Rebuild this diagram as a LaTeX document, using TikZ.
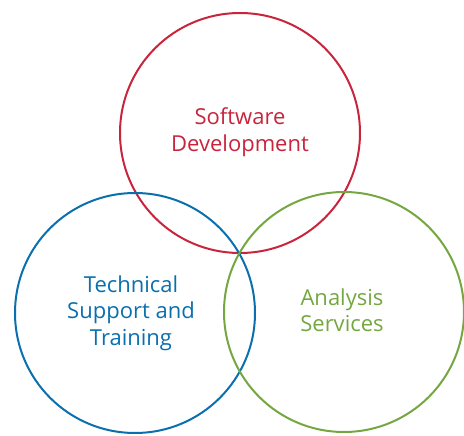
\documentclass[tikz,border=0pt]{standalone}
\usepackage{fontspec}
\setmainfont{Open Sans}
\definecolor{cred}{HTML}{C8243C}
\definecolor{cblue}{HTML}{0A6FAE}
\definecolor{cgreen}{HTML}{74A740}
\begin{document}
\begin{tikzpicture}[x=1pt,y=-1pt,
  ring/.style={draw=#1, line width=2pt, circle, minimum size=240pt, inner sep=0pt},
  lbl/.style={text=#1, align=center, font=\fontsize{22}{26.5}\selectfont}]
\useasboundingbox (0,0) rectangle (464,436);
\node[ring=cred] (sw) at (240,133) {};
\node[ring=cblue] (ts) at (135,313) {};
\node[ring=cgreen] (an) at (344,312) {};
\node[lbl=cred] (swl) at (240,132) {Software\\Development};
\node[lbl=cblue] (tsl) at (131,313) {Technical\\Support and\\Training};
\node[lbl=cgreen] (anl) at (342,310) {Analysis\\Services};
\end{tikzpicture}
\end{document}
